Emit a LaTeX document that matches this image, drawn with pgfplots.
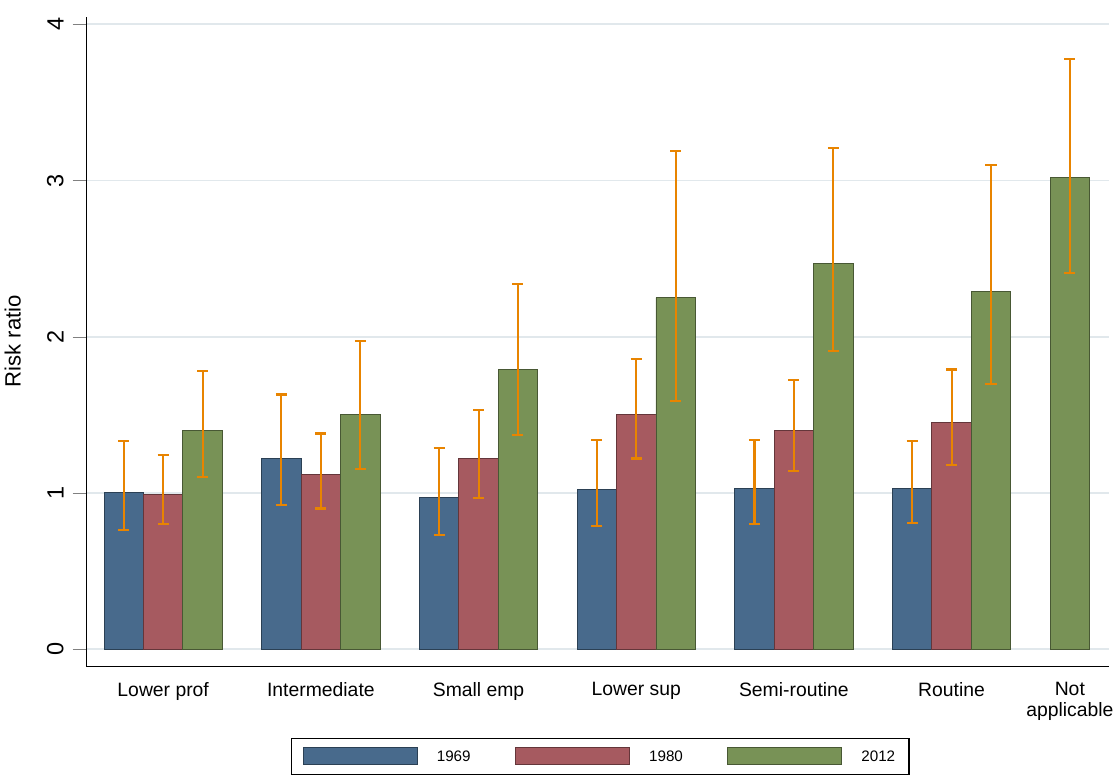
\documentclass[border=0pt]{standalone}
\usepackage{pgfplots}
\pgfplotsset{compat=1.18}
\usepackage{fontspec}
\setmainfont{Liberation Sans}
\definecolor{cB}{RGB}{72,106,140}
\definecolor{cR}{RGB}{166,90,96}
\definecolor{cG}{RGB}{120,146,86}
\definecolor{cO}{RGB}{232,132,0}
\definecolor{grd}{RGB}{225,232,236}
\begin{document}
\begin{tikzpicture}
\begin{axis}[name=ax,
  scale only axis, width=740pt, height=470pt,
  xmin=-0.487, xmax=6.0, ymin=-0.11, ymax=4.05,
  axis x line*=bottom, axis y line*=left,
  ytick={0,1,2,3,4}, yticklabel style={rotate=90, anchor=south, font=\fontsize{17}{17}\selectfont, yshift=3pt},
  yticklabels={0,1,2,3,4},
  ymajorgrids, grid style={grd, line width=1.3pt},
  tick align=outside, major tick length=10pt,
  xtick={0,1,2,3,4,5,5.75},
  xticklabels={Lower prof,Intermediate,Small emp,Lower sup,Semi-routine,Routine,Not\\applicable},
  xticklabel style={align=center, font=\fontsize{14}{15}\selectfont, yshift=2pt},
  x tick style={draw=none},
  ylabel={Risk ratio}, ylabel style={font=\fontsize{16}{16}\selectfont, yshift=12pt},
  ybar, bar width=0.25, bar shift=0pt,
  every axis plot/.append style={line width=0.6pt},
  error bars/y dir=both, error bars/y explicit,
  error bars/error bar style={cO, line width=1.5pt},
  error bars/error mark options={rotate=90, mark size=4pt, cO, line width=1.5pt},
  legend style={at={(0.2,-0.11)}, anchor=north west, legend columns=3,
    font=\fontsize{11}{11}\selectfont, draw=black, line width=0.8pt,
    /tikz/every even column/.append style={column sep=30pt},
    /tikz/every odd column/.append style={column sep=12pt},
    inner xsep=8pt, inner ysep=6pt},
  legend image code/.code={\draw[#1] (0cm,-0.2cm) rectangle (2.9cm,0.25cm);},
]
\addplot[fill=cB, draw=cB!60!black] table[x=x,y=y,y error plus=ep,y error minus=em] {
x y ep em
-0.25 1.00 0.33 0.24
0.75 1.22 0.41 0.30
1.75 0.97 0.32 0.24
2.75 1.02 0.32 0.23
3.75 1.03 0.31 0.23
4.75 1.03 0.30 0.22
};
\addplot[fill=cR, draw=cR!60!black] table[x=x,y=y,y error plus=ep,y error minus=em] {
x y ep em
0 0.99 0.25 0.19
1 1.12 0.26 0.22
2 1.22 0.31 0.25
3 1.50 0.36 0.28
4 1.40 0.32 0.26
5 1.45 0.34 0.27
};
\addplot[fill=cG, draw=cG!60!black] table[x=x,y=y,y error plus=ep,y error minus=em] {
x y ep em
0.25 1.40 0.38 0.30
1.25 1.50 0.47 0.35
2.25 1.79 0.55 0.42
3.25 2.25 0.94 0.66
4.25 2.47 0.74 0.56
5.25 2.29 0.81 0.59
5.75 3.02 0.76 0.61
};
\legend{1969,1980,2012}
\end{axis}
\path (ax.north) ++(0,12pt) coordinate (tp);
\useasboundingbox (current bounding box.south west) rectangle (current bounding box.north east |- tp);
\end{tikzpicture}
\end{document}
